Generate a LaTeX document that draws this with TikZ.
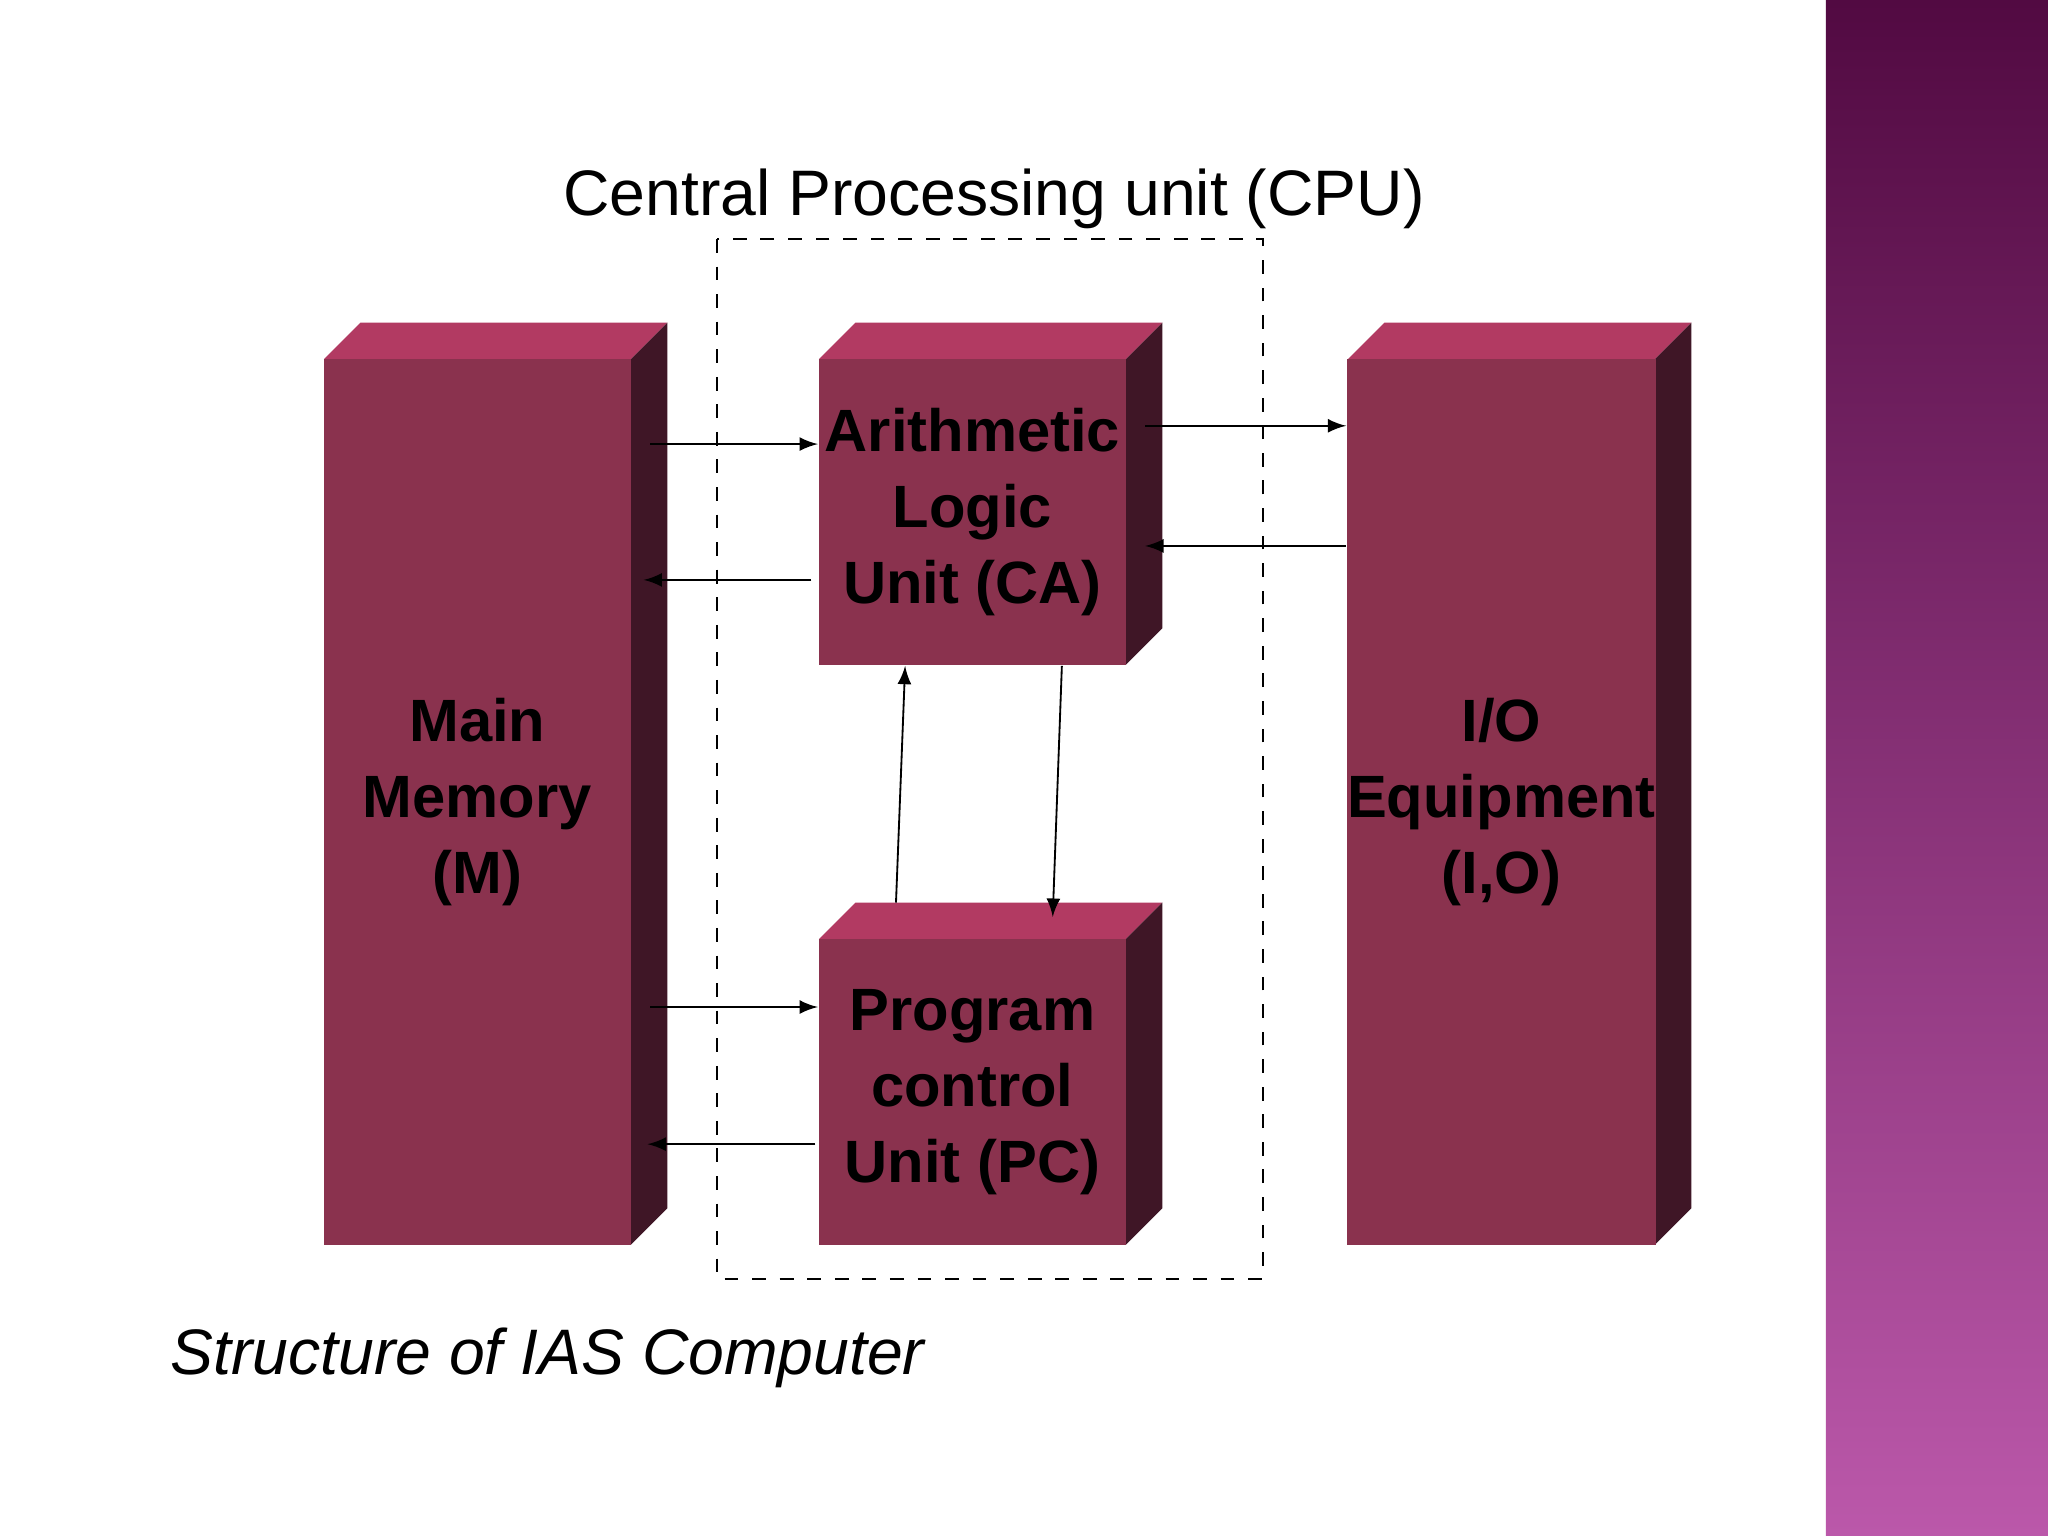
\documentclass[tikz,border=0pt]{standalone}
\usepackage{fontspec}
\setmainfont{Liberation Sans}
\usetikzlibrary{arrows}
\definecolor{front}{HTML}{8A324E}
\definecolor{topc}{HTML}{B23A62}
\definecolor{side}{HTML}{3F1626}
\definecolor{stripA}{HTML}{520A42}
\definecolor{stripB}{HTML}{BB58AA}
\begin{document}
\begin{tikzpicture}[x=0.01cm,y=-0.01cm,
  face/.style={fill=front,draw=none,inner sep=0pt,align=center,
    font=\bfseries\fontsize{13}{16.5}\selectfont},
  link/.style={-latex,thin}]
\useasboundingbox (0,0) rectangle (1568,1176);
\fill[white] (0,0) rectangle (1568,1176);
\shade[top color=stripA,bottom color=stripB] (1398,0) rectangle (1568,1176);
% 3D boxes: front face node, top and side
\newcommand{\blockbox}[5]{% name, x1, y1, x2, y2
  \fill[topc] (#2,#3) -- (#2+28,#3-28) -- (#4+28,#3-28) -- (#4,#3) -- cycle;
  \fill[side] (#4,#3) -- (#4+28,#3-28) -- (#4+28,#5-28) -- (#4,#5) -- cycle;
}
\blockbox{mem}{248}{275}{483}{953}
\blockbox{alu}{627}{275}{862}{509}
\blockbox{pcu}{627}{719}{862}{953}
\blockbox{io}{1032}{275}{1267}{953}
\node[face,minimum width=2.35cm,minimum height=6.78cm] (mem) at (365.5,614) {Main\\Memory\\(M)};
\node[face,minimum width=2.35cm,minimum height=2.34cm] (alu) at (744.5,392) {Arithmetic\\Logic\\Unit (CA)};
\node[face,minimum width=2.35cm,minimum height=2.34cm] (pcu) at (744.5,836) {Program\\control\\Unit (PC)};
\node[face,minimum width=2.35cm,minimum height=6.78cm] (io) at (1149.5,614) {I/O\\Equipment\\(I,O)};
\draw[dashed,thin] (549,183) rectangle (967,979);
\node[font=\fontsize{14}{16}\selectfont] (cpu) at (761,152) {Central Processing unit (CPU)};
\node[font=\itshape\fontsize{14}{16}\selectfont,anchor=west] (cap) at (118,1040) {Structure of IAS Computer};
% connectors
\draw[link] ([xshift=0.14cm]mem.east |- 0,340) -- (alu.west |- 0,340);
\draw[link] ([xshift=-0.05cm]alu.west |- 0,444) -- ([xshift=0.09cm]mem.east |- 0,444);
\draw[link] ([xshift=0.14cm]mem.east |- 0,771) -- (pcu.west |- 0,771);
\draw[link] ([xshift=-0.02cm]pcu.west |- 0,876) -- ([xshift=0.12cm]mem.east |- 0,876);
\draw[link] ([xshift=0.14cm]alu.east |- 0,326) -- (io.west |- 0,326);
\draw[link] (io.west |- 0,418) -- ([xshift=0.14cm]alu.east |- 0,418);
\draw[link] (686,691) -- (alu.south -| 693,0);
\draw[link] (alu.south -| 813,0) -- (806,702);
\end{tikzpicture}
\end{document}
